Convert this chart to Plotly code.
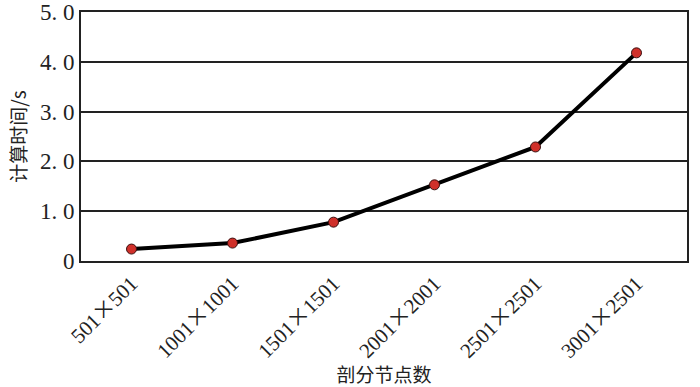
import plotly.graph_objects as go

categories = ["501×501", "1001×1001", "1501×1501", "2001×2001", "2501×2501", "3001×2501"]
times = [0.24, 0.36, 0.78, 1.53, 2.29, 4.18]
y_tick_vals = [0, 1, 2, 3, 4, 5]
y_tick_text = ["0", "1. 0", "2. 0", "3. 0", "4. 0", "5. 0"]

serif = "Liberation Serif, DejaVu Serif, Noto Sans CJK SC, serif"
tick_text = [c.replace("×", "<span style='font-family:Noto Sans CJK SC'>×</span>") for c in categories]

fig = go.Figure()
fig.add_trace(go.Scatter(
    x=list(range(len(categories))), y=times, mode="lines+markers",
    line=dict(color="black", width=4),
    marker=dict(color="#d0302a", size=10, line=dict(color="#3a1010", width=1)),
    showlegend=False,
))

fig.update_layout(
    width=700, height=387,
    margin=dict(l=81, r=13, t=12, b=126),
    paper_bgcolor="white", plot_bgcolor="white",
    font=dict(family=serif, color="#222", size=17),
    xaxis=dict(
        range=[-0.5, 5.5], tickvals=list(range(len(categories))), ticktext=tick_text,
        tickangle=-45, showgrid=False, showline=True, linecolor="#222", linewidth=2,
        mirror=True, ticks="", zeroline=False, automargin=False,
        tickfont=dict(family=serif, size=21, color="#222"),
        title=dict(text="剖分节点数", font=dict(family="Noto Sans CJK SC", size=19), standoff=6),
    ),
    yaxis=dict(
        range=[0, 5], tickvals=y_tick_vals, ticktext=y_tick_text,
        showgrid=True, gridcolor="#222", gridwidth=1.5, automargin=False,
        showline=True, linecolor="#222", linewidth=2, mirror=True, ticks="", zeroline=False,
        title=dict(text="计算时间/s", font=dict(family="Noto Sans CJK SC", size=19), standoff=8),
        tickfont=dict(family=serif, size=23, color="#222"),
    ),
)

fig.write_html("out.html", config={"displayModeBar": False},
               post_script="document.body.style.margin='0';document.body.style.padding='0';")
